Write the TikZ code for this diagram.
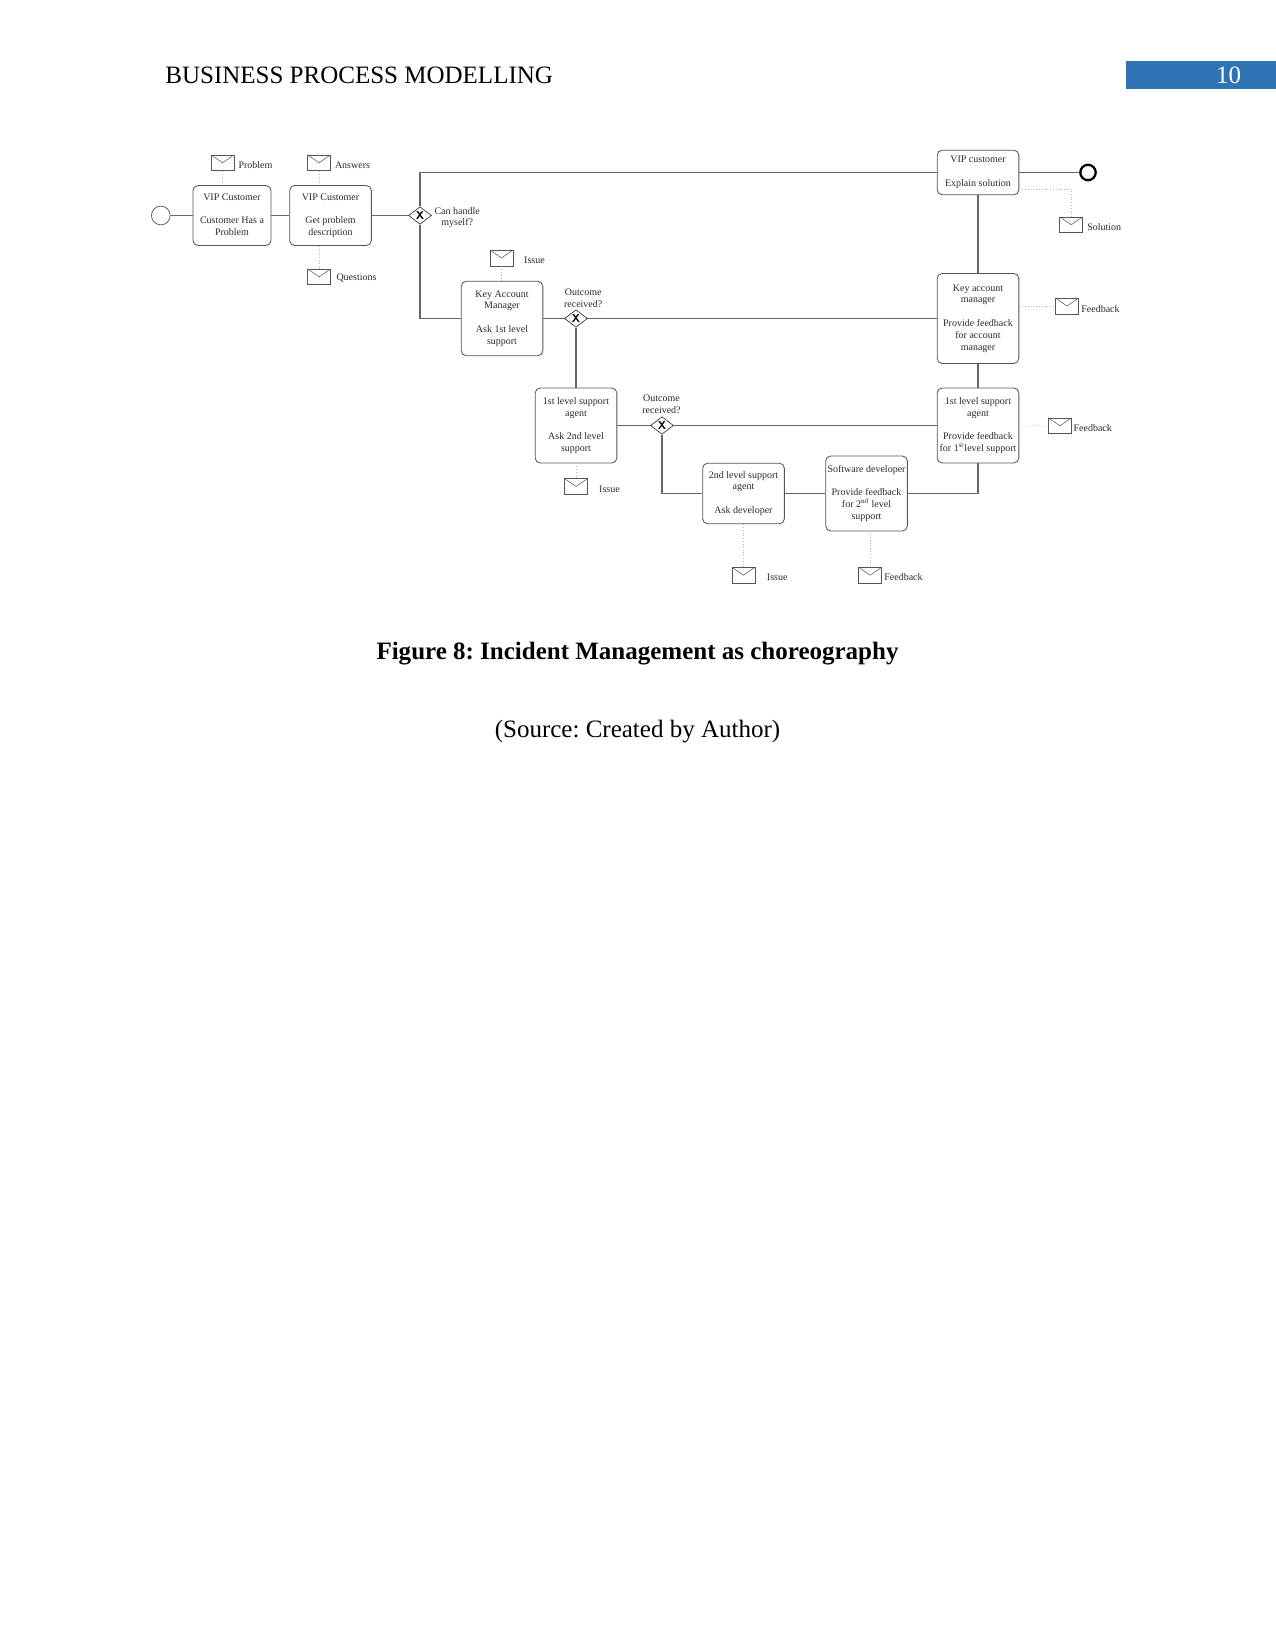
\documentclass[tikz,border=0pt]{standalone}
\usepackage{fontspec}
\setmainfont{Liberation Serif}
\usetikzlibrary{shapes.geometric}
\definecolor{flowgray}{HTML}{666666}
\definecolor{dotgray}{HTML}{B4B4B4}
\definecolor{inkgray}{HTML}{2A2A2A}
\definecolor{envgray}{HTML}{555555}
\definecolor{barblue}{HTML}{2E74B5}
\tikzset{
  x=0.48pt, y=-0.48pt,
  small/.style={font=\fontsize{4.8}{5.65}\selectfont, text=inkgray},
  task/.style={draw=envgray, line width=0.4pt, rounded corners=2.4pt, rectangle, small, align=center,
     inner sep=0pt, minimum width=39.2pt,
     execute at begin node={\rule{0pt}{5.4pt}},
     execute at end node={\rule[-1.1pt]{0pt}{0pt}}},
  gate/.style={draw=inkgray, fill=white, line width=0.3pt, diamond, aspect=1.3, inner sep=0pt,
     minimum width=11pt, minimum height=8.4pt, font=\sffamily\bfseries\fontsize{5.5}{5.5}\selectfont, text=black},
  envelope/.style={draw=envgray, line width=0.35pt, rectangle, inner sep=0pt, minimum width=11pt, minimum height=7.6pt,
     path picture={\draw[envgray, line width=0.25pt] (path picture bounding box.north west) -- (path picture bounding box.center) -- (path picture bounding box.north east);}},
  lbl/.style={small, align=center, inner sep=0pt},
  flow/.style={draw=flowgray, line width=0.5pt},
  assoc/.style={draw=dotgray, line width=0.35pt, densely dotted},
  startev/.style={circle, draw=envgray, line width=0.35pt, minimum size=9pt, inner sep=0pt},
  endev/.style={circle, draw=black, line width=1.1pt, minimum size=7.4pt, inner sep=0pt},
  page/.style={font=\fontsize{12}{14}\selectfont, inner sep=0pt},
}
\begin{document}
\frenchspacing
\begin{tikzpicture}
\useasboundingbox (0,0) rectangle (1275,1650);
\begin{scope}[shift={(0.5,0)}]
% header
\node[page, anchor=west] (hdr) at (164.5,75) {BUSINESS PROCESS MODELLING};
\node[fill=barblue, minimum width=73pt, minimum height=13.7pt, inner sep=0pt, anchor=west] (bar) at (1125,74.8) {};
\node[page, text=white] (pg) at (1228,75) {10};
% events and gateways
\node[startev] (start) at (160.3,215.5) {};
\node[endev] (end) at (1087.5,172.5) {};
\node[gate] (g1) at (419.5,215.5) {X};
\node[gate] (g2) at (575.5,318.5) {X};
\node[gate] (g3) at (661.5,425.5) {X};
% tasks
\node[task, minimum width=37.4pt, minimum height=28.8pt] (t1) at (231.5,215.5) {VIP Customer\\[5.65pt]Customer Has a\\Problem};
\node[task, minimum height=28.8pt] (t2) at (330,215.5) {VIP Customer\\[5.65pt]Get problem\\description};
\node[task, minimum height=35.7pt] (kam) at (501.5,318.5) {Key Account\\Manager\\[5.65pt]Ask 1st level\\support};
\node[task, minimum height=36pt] (l1) at (575.5,425.5) {1st level support\\agent\\[5.65pt]Ask 2nd level\\support};
\node[task, minimum height=29.1pt] (l2) at (743,493.5) {2nd level support\\agent\\[5.65pt]Ask developer};
\node[task, minimum height=36pt] (sw) at (866,493.5) {Software developer\\[5.65pt]Provide feedback\\for 2\textsuperscript{nd} level\\support};
\node[task, minimum height=21.4pt, execute at begin node={\rule{0pt}{6.2pt}}] (vip) at (977.5,172.5) {VIP customer\\[5.65pt]Explain solution};
\node[task, minimum height=43.2pt] (kfb) at (977.5,318.5) {Key account\\manager\\[5.65pt]Provide feedback\\for account\\manager};
\node[task, minimum height=36pt] (lfb) at (977.5,425.5) {1st level support\\agent\\[5.65pt]Provide feedback\\for 1\textsuperscript{st}level support};
% envelopes
\node[envelope] (eprob) at (222,162.8) {};
\node[envelope] (eans) at (318.6,162.8) {};
\node[envelope] (eq) at (318.6,276.8) {};
\node[envelope] (eiss) at (501,258) {};
\node[envelope] (esol) at (1070.7,224.8) {};
\node[envelope] (ekfb) at (1066.5,306) {};
\node[envelope] (elfb) at (1059.3,425.8) {};
\node[envelope] (eiss2) at (575.5,486.5) {};
\node[envelope] (eiss3) at (743,575.2) {};
\node[envelope] (esw) at (869.7,575.2) {};
% labels
\node[lbl] (lprob) at (255,165) {Problem};
\node[lbl] (lans) at (352,165) {Answers};
\node[lbl] (lq) at (356,277.8) {Questions};
\node[lbl] (lcan) at (456.7,217.7) {Can handle\\myself?};
\node[lbl] (liss) at (534,259.8) {Issue};
\node[lbl] (lo2) at (582.7,298.2) {Outcome\\received?};
\node[lbl] (lo3) at (661,404.2) {Outcome\\received?};
\node[lbl] (liss2) at (609,489.6) {Issue};
\node[lbl] (liss3) at (776.7,577) {Issue};
\node[lbl] (lsw) at (903,577) {Feedback};
\node[lbl] (lsol) at (1103.7,226.8) {Solution};
\node[lbl] (lkfb) at (1100,308.7) {Feedback};
\node[lbl] (llfb) at (1092.3,428) {Feedback};
% sequence flows
\draw[flow] (start) -- (t1);
\draw[flow] (t1) -- (t2);
\draw[flow] (t2) -- (g1);
\draw[flow] (g1) |- (vip.west);
\draw[flow] (g1) |- (kam.west);
\draw[flow] (kam.east) -- (g2);
\draw[flow] (g2) -- (kfb.west);
\draw[flow] (g2) -- (l1);
\draw[flow] (l1.east) -- (g3);
\draw[flow] (g3) -- (lfb.west);
\draw[flow] (g3) |- (l2.west);
\draw[flow] (l2) -- (sw);
\draw[flow] (sw.east) -| (lfb.south);
\draw[flow] (lfb) -- (kfb);
\draw[flow] (kfb) -- (vip);
\draw[flow] (vip.east) -- (end);
% message associations
\draw[assoc] (eprob) -- (eprob |- t1.north);
\draw[assoc] (eans) -- (eans |- t2.north);
\draw[assoc] (t2.south -| eq) -- (eq);
\draw[assoc] (eiss) -- (eiss |- kam.north);
\draw[assoc] (l1) -- (eiss2);
\draw[assoc] (l2) -- (eiss3);
\draw[assoc] (sw.south -| esw) -- (esw);
\draw[assoc] (vip.east |- 0,189.5) -| (esol.north);
\draw[assoc] (kfb.east |- ekfb) -- (ekfb);
\draw[assoc] (lfb) -- (elfb);
% caption
\node[page, font=\fontsize{12}{14}\selectfont\bfseries] (cap) at (637,654) {Figure 8: Incident Management as choreography};
\node[page] (src) at (637,732) {(Source: Created by Author)};
\end{scope}
\end{tikzpicture}
\end{document}
